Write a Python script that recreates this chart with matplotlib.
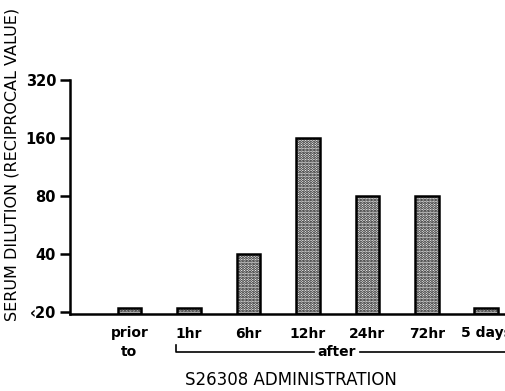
import matplotlib.pyplot as plt
from matplotlib.transforms import blended_transform_factory

# values (reciprocal serum dilution)
categories = ["prior", "1hr", "6hr", "12hr", "24hr", "72hr", "5 days"]
titers = [21, 21, 40, 160, 80, 80, 21]
ytick_vals = [20, 40, 80, 160, 320]
ytick_labels = ["\u203920", "40", "80", "160", "320"]

plt.rcParams['font.family'] = ['DejaVu Sans']
plt.rcParams['hatch.linewidth'] = 1.4

fig = plt.figure(figsize=(5.06, 3.91), dpi=100)
ax = fig.add_axes([70 / 506, 77 / 391, 436 / 506, 234 / 391])

base = 19.5
x = list(range(len(categories)))
ax.bar(x, [t - base for t in titers], width=0.4, bottom=base, color="white",
       edgecolor="black", linewidth=1.8, hatch="......", zorder=2)

ax.set_yscale("log", base=2)
ax.set_ylim(base, 320)
ax.set_xlim(-1.0, 6.33)
ax.set_yticks(ytick_vals)
ax.set_yticklabels(ytick_labels)
ax.minorticks_off()
ax.set_xticks(x)
ax.set_xticklabels(categories)

for s in ["top", "right"]:
    ax.spines[s].set_visible(False)
for s in ["left", "bottom"]:
    ax.spines[s].set_linewidth(1.8)
ax.tick_params(axis="y", length=7, width=1.8, labelsize=10.5, pad=3)
ax.tick_params(axis="x", length=0, labelsize=10, pad=9)
for lab in ax.get_xticklabels() + ax.get_yticklabels():
    lab.set_fontweight("bold")

ax.set_ylabel("SERUM DILUTION (RECIPROCAL VALUE)", fontsize=11.5)
ax.yaxis.set_label_coords(-0.115, 0.64)

# second row of the x labels: "to" and the "after" bracket
tr = blended_transform_factory(ax.transData, fig.transFigure)
y_row2 = 1 - 352 / 391
ax.text(0, y_row2, "to", transform=tr, ha="center", va="center",
        fontsize=10, fontweight="bold")
ax.text(3.48, y_row2, "after", transform=tr, ha="center", va="center",
        fontsize=10, fontweight="bold")
ax.plot([0.79, 0.79, 3.1], [1 - 345 / 391, y_row2, y_row2], color="black",
        lw=1.2, transform=tr, clip_on=False)
ax.plot([3.88, 6.4], [y_row2, y_row2], color="black", lw=1.2,
        transform=tr, clip_on=False)

fig.text(0.575, 1 - 380 / 391, "S26308 ADMINISTRATION", ha="center",
         va="center", fontsize=12)

fig.savefig("out.png", dpi=100)
